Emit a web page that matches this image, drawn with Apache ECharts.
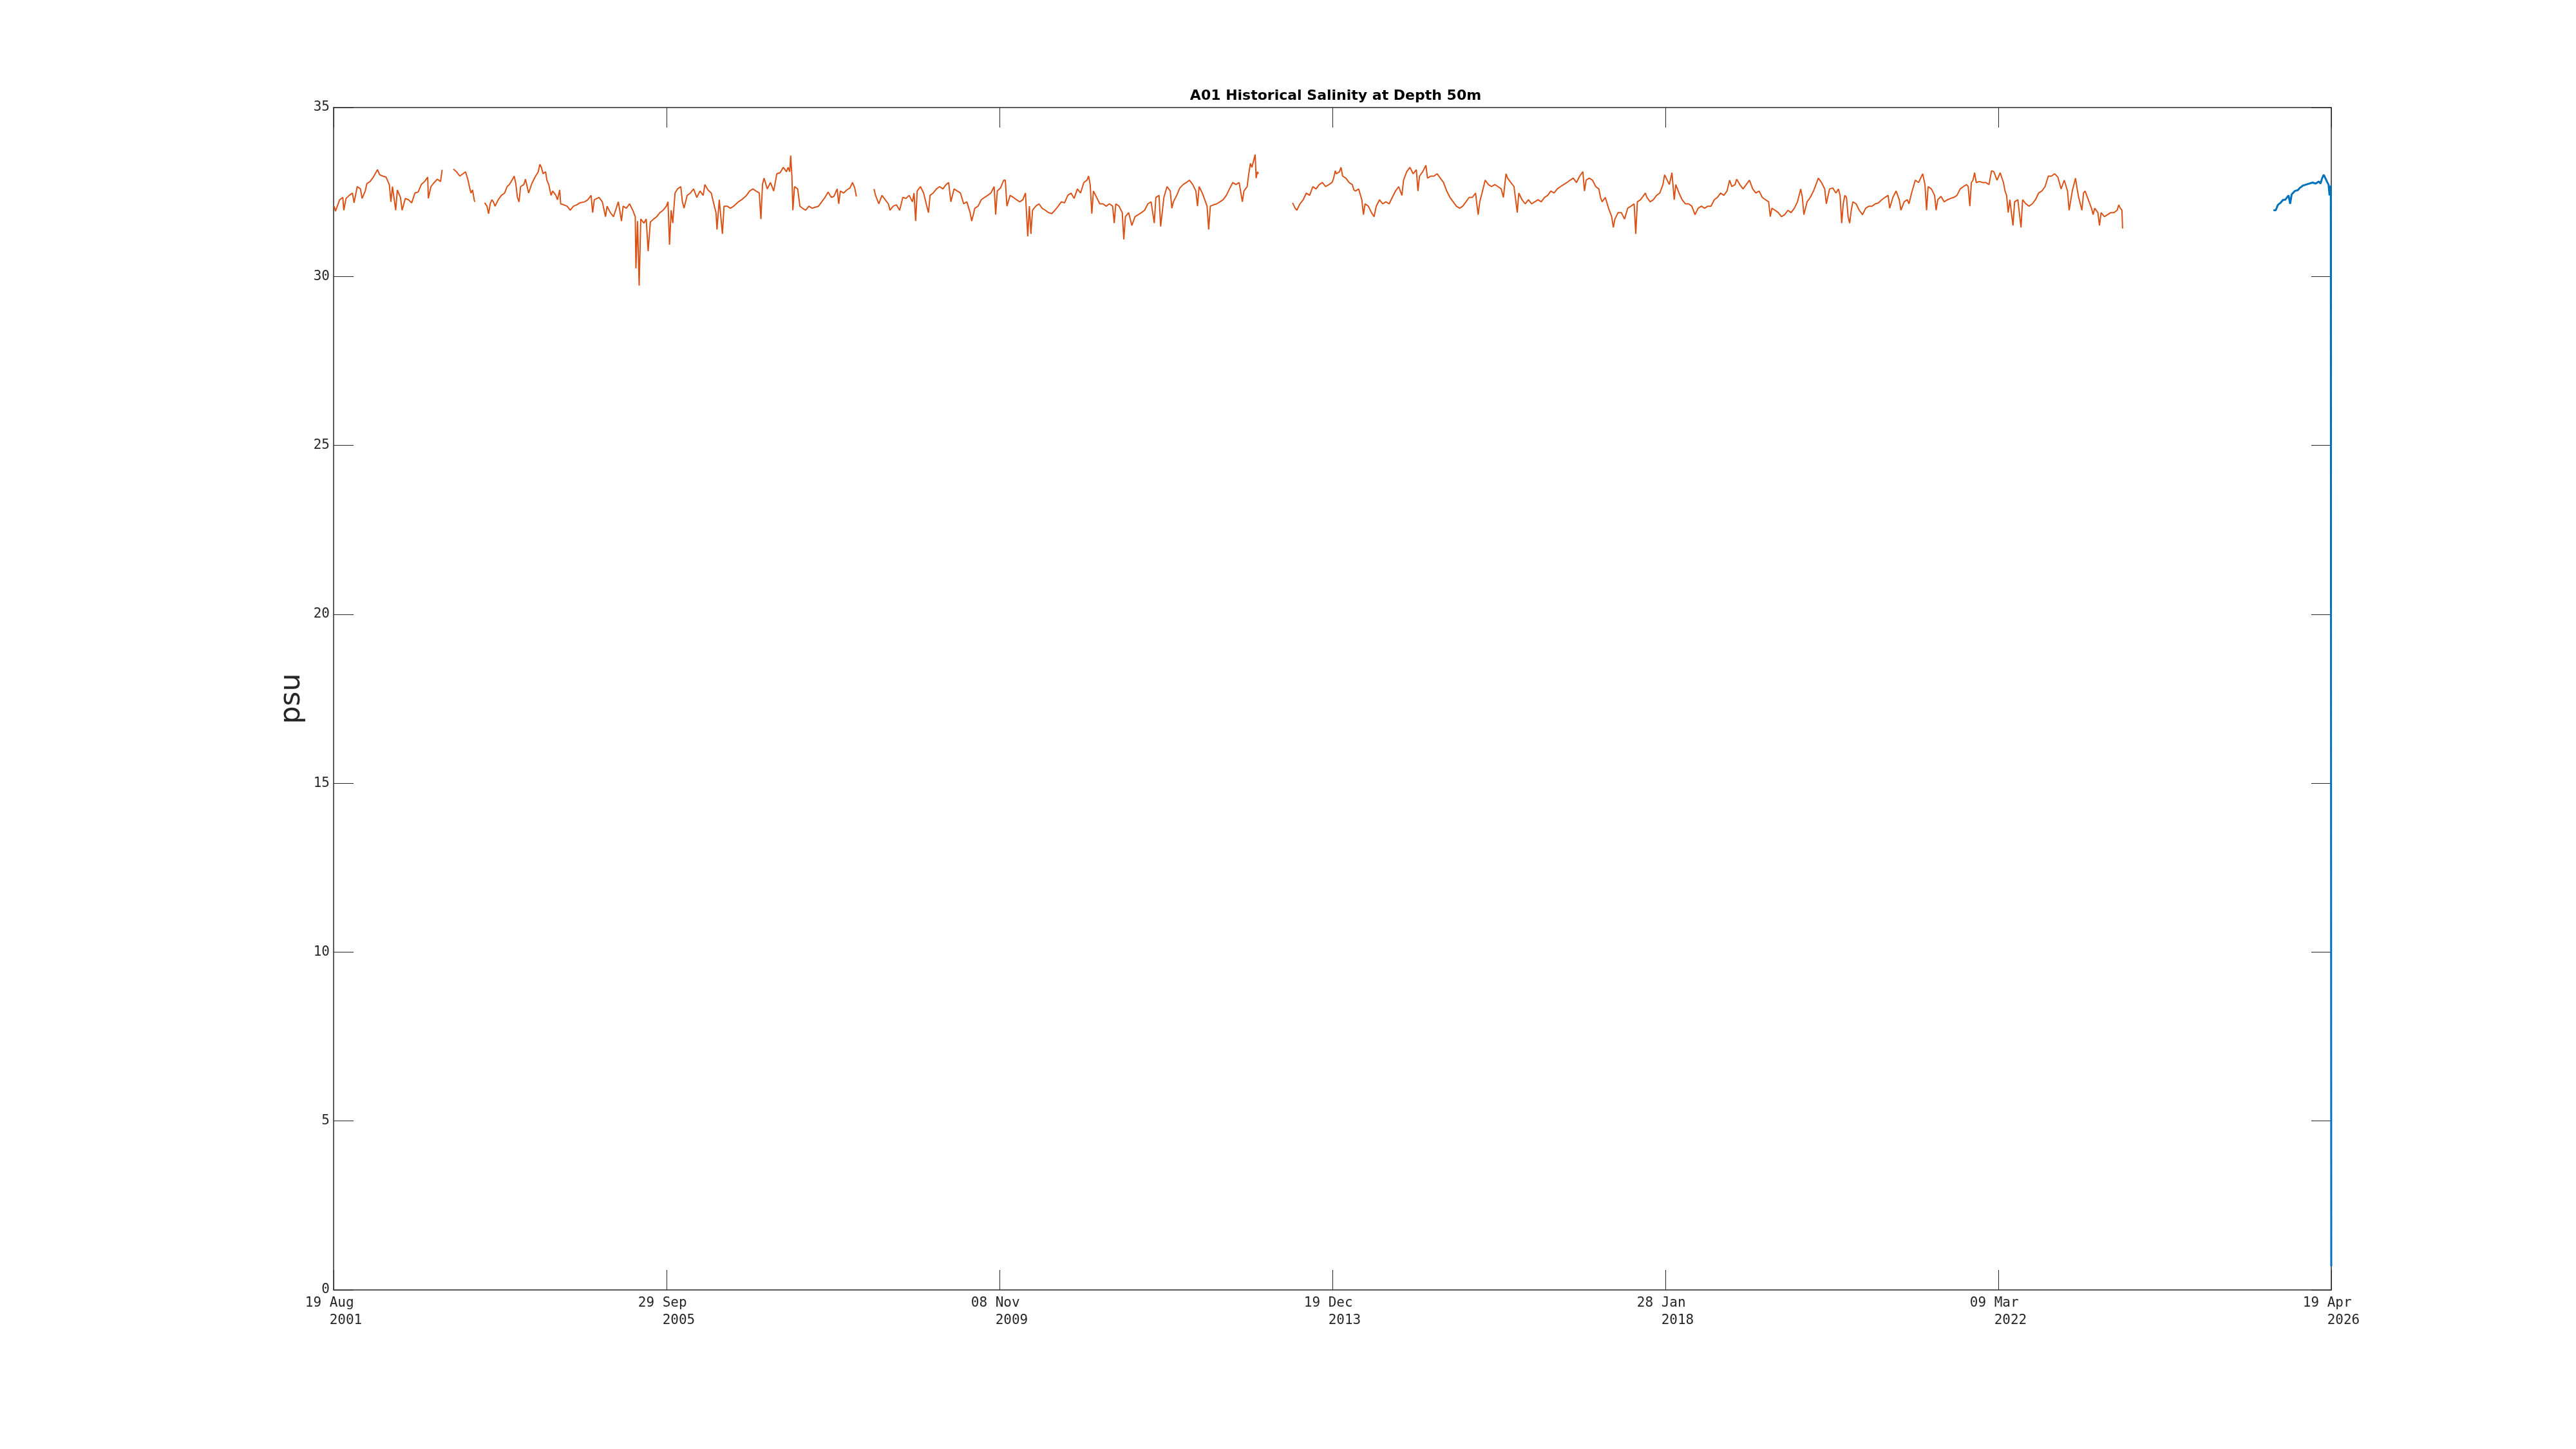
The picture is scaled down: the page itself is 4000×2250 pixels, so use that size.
<!DOCTYPE html>
<html><head><meta charset="utf-8">
<script src="https://cdn.jsdelivr.net/npm/echarts@6/dist/echarts.min.js"></script>
<style>html,body{margin:0;padding:0;background:#fff}#c{width:4000px;height:2250px}</style>
</head><body><div id="c"></div>
<script>
const titleText = 'A01 Historical Salinity at Depth 50m';
const yAxisName = 'psu';
const xStart = [2001, 8, 19];
const xEnd = [2026, 4, 19];
const xTickSteps = 6;
const yMin = 0, yMax = 35, yStep = 5;
const monthNames = ['Jan','Feb','Mar','Apr','May','Jun','Jul','Aug','Sep','Oct','Nov','Dec'];

// orange series: decimal years, null = gap in record
const orangeYears = [
2001.638,2001.653,2001.665,2001.705,2001.744,2001.756,2001.784,2001.824,2001.863,2001.883,
2001.922,2001.962,2001.982,2002.021,2002.041,2002.081,2002.120,2002.172,2002.199,2002.239,
2002.278,2002.318,2002.338,2002.357,2002.397,2002.417,2002.456,2002.476,2002.516,2002.555,
2002.595,2002.634,2002.674,2002.713,2002.753,2002.792,2002.800,2002.832,2002.872,2002.911,
2002.951,2002.970,
2003.040,
2003.109,2003.148,2003.188,2003.228,2003.259,2003.287,2003.307,2003.326,2003.346,2003.366,2003.374,
2003.430,
2003.496,2003.524,2003.544,2003.564,2003.584,2003.603,2003.623,2003.663,2003.702,2003.742,
2003.773,2003.801,2003.840,2003.860,2003.880,2003.900,2003.920,2003.939,2003.979,2003.999,
2004.038,2004.078,2004.117,2004.157,2004.177,2004.196,2004.216,2004.248,2004.264,2004.287,
2004.315,2004.335,2004.375,2004.394,2004.422,2004.434,2004.473,2004.513,2004.552,2004.592,
2004.632,2004.671,2004.730,2004.770,2004.809,2004.829,2004.849,2004.908,2004.948,2004.988,
2005.007,2005.047,2005.086,2005.146,2005.185,2005.205,2005.245,2005.284,2005.324,2005.355,
2005.363,2005.383,2005.403,2005.423,2005.462,2005.490,2005.514,2005.541,2005.581,2005.620,
2005.660,2005.699,2005.739,2005.759,2005.778,2005.798,2005.818,2005.846,2005.877,2005.917,
2005.937,2005.957,2005.996,2006.036,2006.075,2006.115,2006.154,2006.194,2006.214,2006.253,
2006.293,2006.332,2006.352,2006.364,2006.392,2006.431,2006.451,2006.490,2006.530,2006.569,
2006.629,2006.668,2006.728,2006.767,2006.807,2006.846,2006.886,2006.906,2006.926,2006.945,
2006.985,2007.024,2007.064,2007.103,2007.143,2007.183,2007.222,2007.242,2007.262,2007.274,
2007.289,2007.301,2007.321,2007.360,2007.388,2007.420,2007.459,2007.499,2007.539,2007.578,
2007.618,2007.657,2007.697,2007.736,2007.776,2007.808,2007.848,2007.867,2007.887,2007.927,
2007.966,2008.006,2008.037,2008.065,2008.085,
2008.190,
2008.302,2008.322,2008.362,2008.401,2008.441,2008.480,2008.500,2008.540,2008.579,2008.619,
2008.639,2008.658,2008.698,2008.737,2008.777,2008.797,2008.817,2008.836,2008.876,2008.915,
2008.955,2008.975,2008.995,2009.034,2009.074,2009.113,2009.153,2009.192,2009.224,2009.252,
2009.291,2009.331,2009.370,2009.410,2009.449,2009.489,2009.509,2009.548,2009.588,2009.627,
2009.667,2009.706,2009.746,2009.786,2009.805,2009.825,2009.865,2009.904,2009.924,2009.944,
2009.983,2010.023,2010.062,2010.102,2010.141,2010.173,2010.181,2010.201,2010.221,2010.240,
2010.260,2010.300,2010.339,2010.379,2010.418,2010.458,2010.497,2010.537,2010.577,2010.616,
2010.656,2010.695,2010.735,2010.774,2010.814,2010.853,2010.893,2010.932,2010.952,2010.972,
2010.992,2011.012,2011.051,2011.091,2011.130,2011.170,2011.209,2011.249,2011.269,2011.288,
2011.328,2011.368,2011.387,2011.407,2011.447,2011.486,2011.526,2011.565,2011.605,2011.644,
2011.684,2011.724,2011.763,2011.783,2011.822,2011.842,2011.882,2011.921,2011.961,2011.980,
2012.000,2012.040,2012.079,2012.119,2012.159,2012.198,2012.238,2012.277,2012.297,2012.317,
2012.356,2012.396,2012.415,2012.435,2012.455,2012.495,2012.534,2012.574,2012.613,2012.653,
2012.692,2012.732,2012.772,2012.811,2012.851,2012.870,2012.910,2012.930,2012.950,2012.969,
2012.989,2013.009,2013.021,2013.037,2013.048,
2013.260,
2013.471,2013.503,2013.523,2013.562,2013.602,2013.641,2013.681,2013.721,2013.760,2013.800,
2013.839,2013.879,2013.919,2013.958,2013.978,2013.998,2014.010,2014.050,2014.069,2014.089,
2014.129,2014.168,2014.208,2014.228,2014.247,2014.287,2014.326,2014.346,2014.366,2014.406,
2014.445,2014.477,2014.504,2014.544,2014.583,2014.623,2014.663,2014.702,2014.742,2014.781,
2014.821,2014.841,2014.880,2014.920,2014.959,2014.999,2015.019,2015.038,2015.078,2015.117,
2015.137,2015.177,2015.216,2015.256,2015.295,2015.335,2015.374,2015.414,2015.454,2015.493,
2015.533,2015.572,2015.612,2015.651,2015.691,2015.730,2015.762,2015.782,2015.810,2015.849,
2015.889,2015.928,2015.968,2016.007,2016.047,2016.074,2016.106,2016.126,2016.166,2016.205,
2016.245,2016.264,2016.304,2016.343,2016.383,2016.423,2016.462,2016.502,2016.541,2016.581,
2016.620,2016.660,2016.699,2016.739,2016.779,2016.818,2016.858,2016.897,2016.937,2016.976,
2017.016,2017.055,2017.075,2017.095,2017.134,2017.174,2017.214,2017.253,2017.273,2017.293,
2017.332,2017.372,2017.411,2017.431,2017.451,2017.490,2017.530,2017.570,2017.609,2017.649,
2017.688,2017.708,2017.728,2017.767,2017.807,2017.827,2017.846,2017.886,2017.925,2017.965,
2018.005,2018.044,2018.064,2018.084,2018.123,2018.155,2018.183,2018.202,2018.242,2018.281,
2018.321,2018.361,2018.400,2018.440,2018.479,2018.519,2018.558,2018.598,2018.637,2018.677,
2018.716,2018.756,2018.796,2018.835,2018.867,2018.894,2018.934,2018.954,2018.993,2019.033,
2019.072,2019.112,2019.152,2019.191,2019.231,2019.270,2019.310,2019.349,2019.369,2019.389,
2019.428,2019.468,2019.507,2019.547,2019.587,2019.626,2019.666,2019.705,2019.745,2019.765,
2019.784,2019.824,2019.863,2019.903,2019.943,2019.962,2020.002,2020.041,2020.061,2020.101,
2020.140,2020.180,2020.211,2020.231,2020.251,2020.270,2020.290,2020.310,2020.330,2020.349,
2020.369,2020.389,2020.429,2020.468,2020.508,2020.547,2020.587,2020.626,2020.666,2020.705,
2020.745,2020.784,2020.824,2020.844,2020.883,2020.923,2020.962,2020.982,2021.022,2021.061,
2021.081,2021.121,2021.160,2021.200,2021.220,2021.251,2021.279,2021.299,2021.318,2021.358,
2021.398,2021.417,2021.437,2021.477,2021.516,2021.556,2021.595,2021.635,2021.674,2021.714,
2021.753,2021.793,2021.813,2021.833,2021.852,2021.872,2021.892,2021.912,2021.951,2021.991,
2022.030,2022.070,2022.101,2022.129,2022.169,2022.208,2022.248,2022.268,2022.287,2022.307,
2022.327,2022.366,2022.386,2022.426,2022.465,2022.485,2022.525,2022.564,2022.604,2022.643,
2022.683,2022.722,2022.762,2022.802,2022.841,2022.881,2022.920,2022.960,2022.999,2023.039,
2023.059,2023.098,2023.138,2023.158,2023.177,2023.217,2023.237,2023.256,2023.296,2023.335,
2023.355,2023.375,2023.414,2023.434,2023.454,2023.494,2023.533,2023.573,2023.612,2023.652,
2023.672,2023.691,2023.711,2023.719
];
const orangePsu = [
32.08,31.93,31.96,32.27,32.34,31.96,32.31,32.40,32.47,32.18,
32.66,32.59,32.31,32.53,32.75,32.81,32.94,33.16,33.01,32.97,
32.94,32.72,32.21,32.66,31.96,32.56,32.34,31.96,32.31,32.27,
32.18,32.47,32.50,32.72,32.81,32.94,32.31,32.66,32.78,32.88,
32.81,33.16,
null,
33.18,33.10,32.97,33.04,33.10,32.88,32.66,32.47,32.56,32.27,32.21,
null,
32.18,32.08,31.86,32.15,32.27,32.21,32.08,32.27,32.40,32.47,
32.66,32.72,32.88,32.97,32.75,32.34,32.21,32.66,32.72,32.88,
32.47,32.75,32.94,33.10,33.32,33.23,33.04,33.10,32.85,32.72,
32.40,32.53,32.40,32.27,32.56,32.15,32.12,32.08,31.96,32.08,
32.12,32.18,32.21,32.27,32.40,31.89,32.27,32.34,32.21,31.77,
32.08,31.89,31.77,32.21,31.64,32.08,32.02,32.15,31.96,31.77,
30.24,31.64,29.73,31.70,31.58,31.70,30.75,31.61,31.70,31.77,
31.89,31.96,32.08,32.21,30.94,31.96,31.58,32.47,32.59,32.66,
32.21,32.02,32.40,32.47,32.59,32.34,32.53,32.40,32.72,32.56,
32.47,32.08,31.89,31.39,32.27,31.26,32.08,32.08,32.02,32.08,
32.21,32.27,32.40,32.53,32.59,32.53,32.47,31.70,32.72,32.91,
32.59,32.78,32.53,33.04,33.07,33.23,33.10,33.23,33.10,33.58,
32.97,31.96,32.66,32.59,32.08,32.02,31.96,32.08,32.02,32.05,
32.08,32.21,32.34,32.50,32.34,32.37,32.59,32.15,32.53,32.47,
32.56,32.62,32.78,32.62,32.37,
null,
32.59,32.40,32.15,32.40,32.27,32.15,31.96,32.08,32.12,31.96,
32.15,32.34,32.31,32.40,32.21,32.47,31.64,32.53,32.66,32.47,
32.08,31.89,32.40,32.47,32.59,32.66,32.59,32.72,32.78,32.21,
32.59,32.53,32.47,32.15,32.21,31.89,31.64,32.02,32.08,32.27,
32.34,32.40,32.47,32.66,31.83,32.53,32.62,32.85,32.85,32.08,
32.40,32.34,32.27,32.21,32.27,32.47,32.08,31.19,32.08,31.26,
31.96,32.08,32.15,32.02,31.96,31.89,31.86,31.96,32.08,32.21,
32.18,32.40,32.47,32.31,32.59,32.47,32.78,32.85,32.97,32.72,
31.86,32.53,32.34,32.15,32.15,32.08,32.15,32.08,31.58,32.15,
32.08,31.89,31.10,31.77,31.89,31.51,31.77,31.83,31.89,31.96,
32.15,32.21,31.58,32.34,32.40,31.48,32.34,32.66,32.53,32.02,
32.21,32.40,32.62,32.72,32.78,32.85,32.72,32.53,32.08,32.66,
32.47,32.21,32.08,31.39,32.08,32.12,32.15,32.21,32.27,32.40,
32.59,32.78,32.72,32.78,32.21,32.53,32.66,33.04,33.35,33.23,
33.42,33.61,32.91,33.10,33.04,
null,
32.18,32.02,31.96,32.15,32.27,32.47,32.40,32.66,32.59,32.72,
32.78,32.66,32.72,32.78,32.91,33.13,33.04,33.10,33.23,32.97,
32.91,32.78,32.72,32.56,32.53,32.59,32.27,31.83,32.15,32.08,
31.89,31.77,32.08,32.27,32.15,32.21,32.15,32.34,32.53,32.66,
32.40,32.85,33.10,33.23,33.04,33.16,32.53,32.97,33.10,33.29,
32.91,32.97,32.97,33.04,32.91,32.78,32.53,32.34,32.21,32.08,
32.02,32.08,32.21,32.34,32.34,32.47,31.83,32.21,32.47,32.85,
32.72,32.66,32.72,32.66,32.59,32.34,33.04,32.91,32.78,32.66,
31.89,32.47,32.27,32.15,32.27,32.15,32.21,32.27,32.21,32.34,
32.40,32.53,32.47,32.59,32.66,32.72,32.78,32.85,32.91,32.78,
32.97,33.10,32.53,32.85,32.91,32.85,32.66,32.59,32.34,32.21,
32.34,32.02,31.77,31.45,31.70,31.89,31.89,31.70,32.02,32.08,
32.15,31.26,32.21,32.27,32.40,32.47,32.34,32.21,32.27,32.40,
32.47,32.72,33.01,32.91,32.72,33.07,32.27,32.72,32.47,32.27,
32.15,32.15,32.08,31.83,32.02,32.08,32.02,32.08,32.08,32.27,
32.34,32.47,32.40,32.53,32.85,32.66,32.72,32.88,32.72,32.59,
32.72,32.85,32.59,32.47,32.53,32.34,32.27,32.21,31.77,32.02,
31.96,31.89,31.77,31.83,31.96,31.89,32.02,32.21,32.59,32.34,
31.83,32.21,32.34,32.53,32.78,32.91,32.78,32.59,32.15,32.59,
32.62,32.47,32.59,32.40,31.58,32.15,32.40,32.34,31.77,31.58,
31.96,32.21,32.15,31.96,31.83,32.02,32.08,32.08,32.15,32.18,
32.27,32.34,32.40,32.02,32.34,32.53,32.27,31.96,32.21,32.27,
32.15,32.53,32.85,32.78,32.88,33.04,32.72,31.96,32.66,32.59,
32.40,31.96,32.27,32.37,32.21,32.27,32.31,32.34,32.40,32.59,
32.66,32.72,32.66,32.08,32.78,32.85,33.07,32.78,32.81,32.78,
32.78,32.72,33.13,33.10,32.85,33.07,32.78,32.53,32.40,31.89,
32.27,31.51,32.21,32.27,31.45,32.27,32.15,32.08,32.15,32.27,
32.47,32.53,32.66,32.97,32.97,33.04,32.94,32.59,32.85,32.53,
31.96,32.53,32.91,32.59,32.34,31.96,32.47,32.53,32.27,32.02,
31.83,32.02,31.89,31.51,31.89,31.77,31.83,31.89,31.89,31.96,
32.12,32.02,31.96,31.42
];

// blue series: decimal years
const blueYears = [
2025.582,2025.610,2025.637,2025.669,2025.701,2025.728,2025.768,2025.788,2025.807,2025.847,
2025.886,2025.906,2025.946,2025.985,2026.025,2026.064,2026.104,2026.143,2026.163,2026.183,
2026.203,2026.223,2026.242,2026.262,2026.274,2026.290,2026.295,2026.2957
];
const bluePsu = [
31.96,31.96,32.12,32.18,32.27,32.27,32.40,32.15,32.43,32.53,
32.56,32.62,32.69,32.72,32.75,32.78,32.75,32.81,32.75,32.91,
33.01,32.91,32.81,32.72,32.40,32.69,32.69,0.70
];

// ---- build ----
const t0 = Date.UTC(xStart[0], xStart[1]-1, xStart[2]);
const t1 = Date.UTC(xEnd[0], xEnd[1]-1, xEnd[2]);
const totalDays = (t1 - t0) / 864e5;
const xInterval = totalDays / xTickSteps;
// axis limits lie part-way through the first and last days
const limStartFrac = 0.7, limEndFrac = 0.35;
function decYear(y,m,d){
  const start = Date.UTC(y,0,1), next = Date.UTC(y+1,0,1);
  return y + (Date.UTC(y,m-1,d) - start) / (next - start);
}
const y0 = decYear(xStart[0], xStart[1], xStart[2]);
const y1 = decYear(xEnd[0], xEnd[1], xEnd[2]);
function toDays(yr){ return Math.min(totalDays, (yr - y0) / (y1 - y0) * totalDays); }
function build(years, vals){
  return years.map((yr,i)=>[toDays(yr), vals[i]==null ? '-' : vals[i]]);
}
function pad(n){ return (n<10?'0':'')+n; }
function fmtDate(v){
  const span = totalDays - limStartFrac + limEndFrac;
  const d = new Date(t0 + (limStartFrac + v * span / totalDays) * 864e5);
  return pad(d.getUTCDate()) + ' ' + monthNames[d.getUTCMonth()] + ' \n   ' + d.getUTCFullYear();
}

const axisColor = '#262626';
const mono = 'DejaVu Sans Mono';
const chart = echarts.init(document.getElementById('c'), null, {renderer:'canvas'});
chart.setOption({
  animation: false,
  backgroundColor: '#ffffff',
  title: {
    text: titleText, left: 2069, top: 133, textAlign: 'center',
    textStyle: {fontFamily: 'DejaVu Sans', fontWeight: 'bold', fontSize: 22, color: '#000'}
  },
  grid: {left: 518, right: 380, top: 167, bottom: 247, containLabel: false},
  xAxis: [{
    type: 'value', min: 0, max: totalDays, interval: xInterval, position: 'bottom',
    axisLine: {show: true, onZero: false, lineStyle: {color: axisColor, width: 1.5}},
    axisTick: {show: true, inside: true, length: 31, lineStyle: {color: axisColor, width: 1}},
    axisLabel: {show: true, formatter: fmtDate, fontFamily: mono, fontSize: 21, lineHeight: 27,
      color: axisColor, margin: 7, showMinLabel: true, showMaxLabel: true, hideOverlap: false},
    splitLine: {show: false}
  },{
    type: 'value', min: 0, max: totalDays, interval: xInterval, position: 'top',
    axisLine: {show: true, onZero: false, lineStyle: {color: axisColor, width: 1.5}},
    axisTick: {show: true, inside: true, length: 31, lineStyle: {color: axisColor, width: 1}},
    axisLabel: {show: false}, splitLine: {show: false}
  }],
  yAxis: [{
    type: 'value', min: yMin, max: yMax, interval: yStep, position: 'left',
    name: yAxisName, nameLocation: 'middle', nameGap: 31, nameRotate: 90,
    nameTextStyle: {fontFamily: 'DejaVu Sans', fontSize: 44, color: axisColor},
    axisLine: {show: true, onZero: false, lineStyle: {color: axisColor, width: 1.5}},
    axisTick: {show: true, inside: true, length: 31, lineStyle: {color: axisColor, width: 1}},
    axisLabel: {show: true, fontFamily: mono, fontSize: 21, color: axisColor, margin: 6},
    splitLine: {show: false}
  },{
    type: 'value', min: yMin, max: yMax, interval: yStep, position: 'right',
    axisLine: {show: true, onZero: false, lineStyle: {color: axisColor, width: 1.5}},
    axisTick: {show: true, inside: true, length: 31, lineStyle: {color: axisColor, width: 1}},
    axisLabel: {show: false}, splitLine: {show: false}
  }],
  series: [{
    type: 'line', xAxisIndex: 0, yAxisIndex: 0, data: build(orangeYears, orangePsu),
    showSymbol: false, symbol: 'none', connectNulls: false, clip: true,
    lineStyle: {color: '#D95319', width: 2}, itemStyle: {color: '#D95319'}
  },{
    type: 'line', xAxisIndex: 0, yAxisIndex: 0, data: build(blueYears, bluePsu),
    showSymbol: false, symbol: 'none', clip: true,
    lineStyle: {color: '#0072BD', width: 3}, itemStyle: {color: '#0072BD'}
  }]
});
</script>
</body></html>
